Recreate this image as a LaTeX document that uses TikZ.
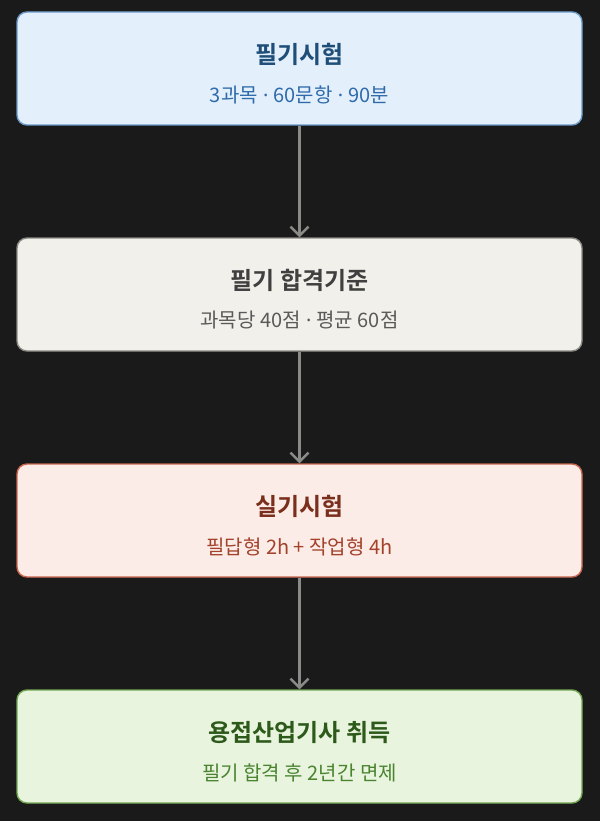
\documentclass[tikz,border=0pt]{standalone}
\usepackage{fontspec}
\usepackage{tikz}
\usetikzlibrary{arrows.meta}
\setmainfont{Noto Sans CJK KR}[BoldFont={Noto Sans CJK KR Bold}]
\newfontfamily\latinf{Noto Sans}
\newcommand{\middot}{{\latinf\ ·\ }}

\definecolor{bgdark}{HTML}{1A1A1A}
\definecolor{arrgray}{HTML}{8A8A86}
\definecolor{bluefill}{HTML}{E3F0FC}
\definecolor{blueline}{HTML}{6C9BC8}
\definecolor{bluetitle}{HTML}{1F4E79}
\definecolor{bluesub}{HTML}{2F6BAA}
\definecolor{grayfill}{HTML}{F2F0EA}
\definecolor{grayline}{HTML}{8C8A84}
\definecolor{graytitle}{HTML}{404040}
\definecolor{graysub}{HTML}{5A5A5A}
\definecolor{redfill}{HTML}{FCECE7}
\definecolor{redline}{HTML}{C8664E}
\definecolor{redtitle}{HTML}{7A2E1C}
\definecolor{redsub}{HTML}{A3432C}
\definecolor{greenfill}{HTML}{E8F4DD}
\definecolor{greenline}{HTML}{72A853}
\definecolor{greentitle}{HTML}{2D5A1B}
\definecolor{greensub}{HTML}{4A8431}

\tikzset{
    box/.style={draw,rounded corners=10pt,line width=1.4pt,
        minimum width=565pt,minimum height=113pt,inner sep=0pt},
    ttl/.style={font=\fontsize{24}{28}\selectfont\bfseries},
    sub/.style={font=\fontsize{20}{24}\selectfont},
    arr/.style={draw=arrgray,line width=2.4pt,-{Straight Barb[length=9pt,width=18pt,line width=2.4pt]}}
}

\begin{document}
\begin{tikzpicture}[x=1pt,y=-1pt]
    \fill[bgdark] (0,0) rectangle (600,821);
    \useasboundingbox (0,0) rectangle (600,821);
    \foreach \n/\y/\c/\t/\s in {%각 단계: 이름/중심 y/색/제목/부제
        b1/68.5/blue/필기시험/3과목\middot{}60문항\middot{}90분,
        b2/294.5/gray/필기 합격기준/과목당 40점\middot{}평균 60점,
        b3/520.5/red/실기시험/필답형 2h + 작업형 4h,
        b4/746.5/green/용접산업기사 취득/필기 합격 후 2년간 면제}{
        \node[box,fill=\c fill,draw=\c line] (\n) at (299.5,\y) {};
        \node[ttl,text=\c title] (\n-t) at (299.5,\y-14) {\t};
        \node[sub,text=\c sub] (\n-s) at (299.5,\y+26) {\s};
    }
    \draw[arr] (b1) -- (b2);
    \draw[arr] (b2) -- (b3);
    \draw[arr] (b3) -- (b4);
\end{tikzpicture}
\end{document}
